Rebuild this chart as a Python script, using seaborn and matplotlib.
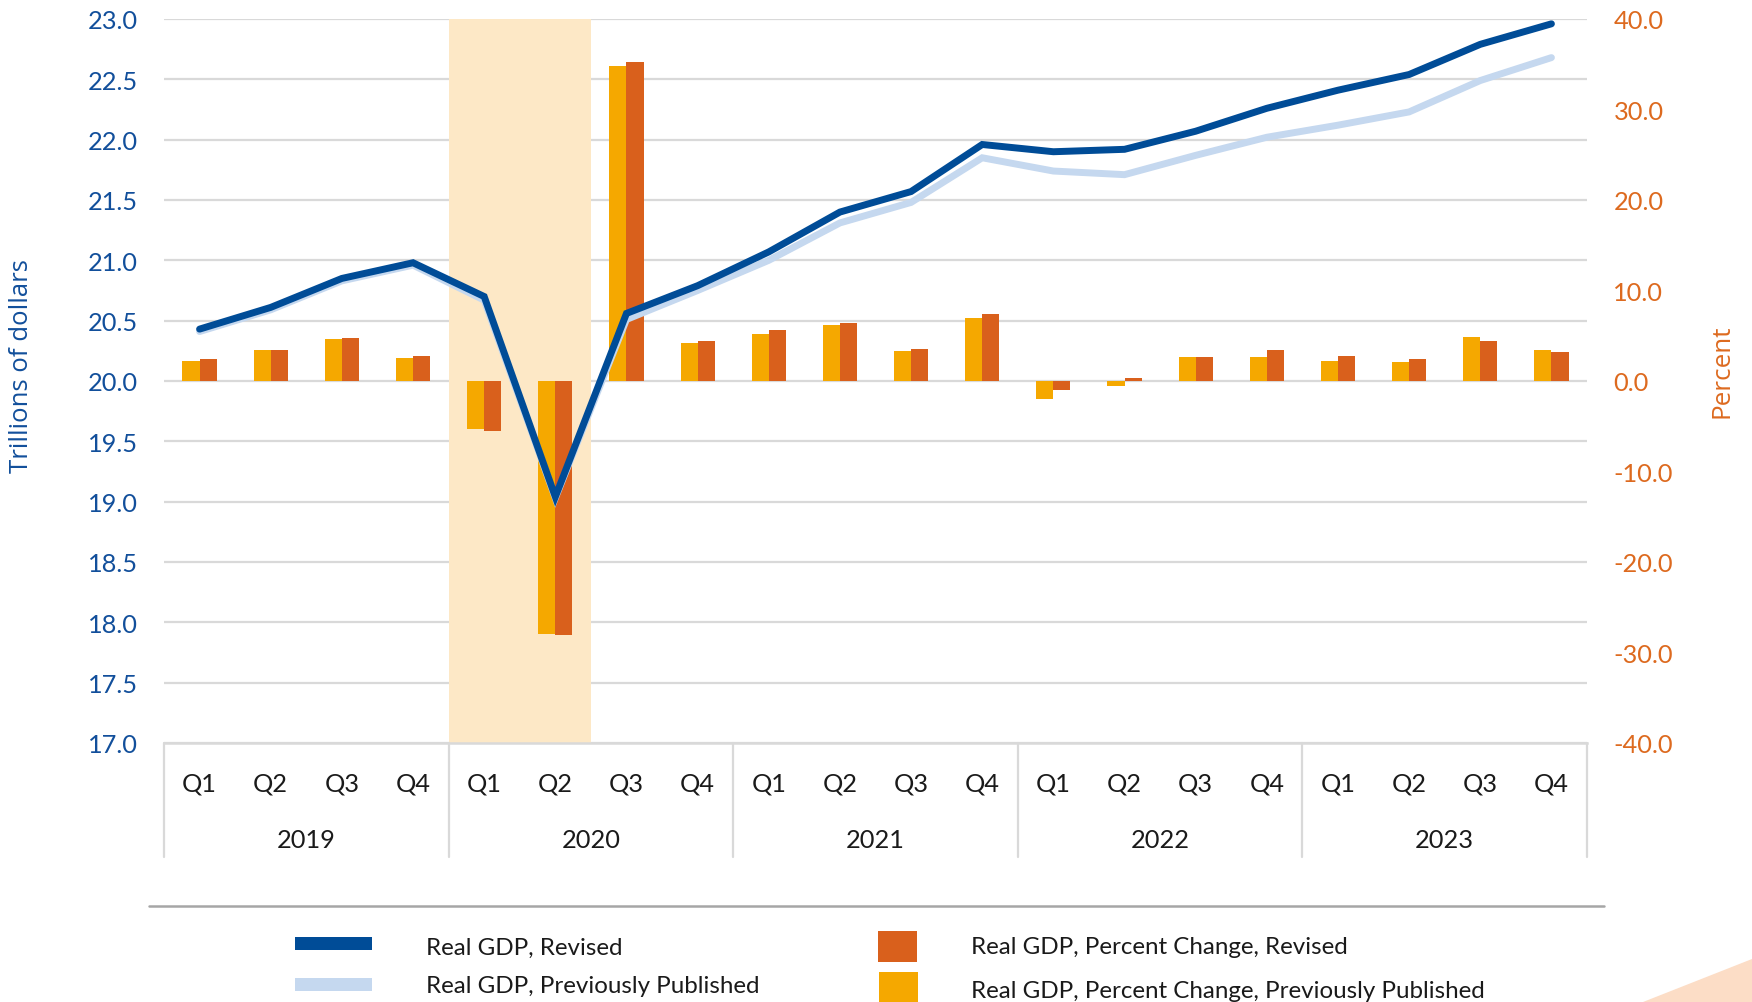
import numpy as np
import pandas as pd
import matplotlib
matplotlib.use("Agg")
import matplotlib.pyplot as plt
import matplotlib.transforms as mtrans
from matplotlib.patches import Rectangle, Polygon
from matplotlib.lines import Line2D
import seaborn as sns

# ---------------- data ----------------
years = ["2019", "2020", "2021", "2022", "2023"]
quarters = ["Q1", "Q2", "Q3", "Q4"]
recession_quarters = ["2020 Q1", "2020 Q2"]

gdp_revised = [20.43, 20.61, 20.85, 20.98,
               20.70, 19.04, 20.56, 20.79,
               21.07, 21.40, 21.57, 21.96,
               21.90, 21.92, 22.07, 22.26,
               22.41, 22.54, 22.79, 22.96]
gdp_previous = [20.41, 20.59, 20.83, 20.96,
                20.67, 19.03, 20.51, 20.75,
                21.00, 21.31, 21.48, 21.85,
                21.74, 21.71, 21.87, 22.02,
                22.12, 22.23, 22.49, 22.68]
pct_revised = [2.4, 3.4, 4.8, 2.8,
               -5.5, -28.1, 35.2, 4.4,
               5.6, 6.4, 3.5, 7.4,
               -1.0, 0.3, 2.7, 3.4,
               2.8, 2.4, 4.4, 3.2]
pct_previous = [2.2, 3.4, 4.6, 2.5,
                -5.3, -28.0, 34.8, 4.2,
                5.2, 6.2, 3.3, 7.0,
                -2.0, -0.6, 2.7, 2.6,
                2.2, 2.1, 4.9, 3.4]

lbl_rev = "Real GDP, Revised"
lbl_prev = "Real GDP, Previously Published"
lbl_pct_rev = "Real GDP, Percent Change, Revised"
lbl_pct_prev = "Real GDP, Percent Change, Previously Published"

left_ticks = np.arange(17.0, 23.01, 0.5)
right_ticks = np.arange(-40, 40.1, 10)

# ---------------- colours ----------------
C_REV = "#004C97"
C_PREV = "#C5D8EF"
C_BAR_REV = "#D9601C"
C_BAR_PREV = "#F5A800"
C_SHADE = "#FDE8C6"
C_GRID = "#D9D9D9"
C_LEFT = "#124F9B"
C_RIGHT = "#DD6A1F"
C_TEXT = "#1A1A1A"

# ---------------- frames ----------------
labels = [f"{y} {q}" for y in years for q in quarters]
idx = np.arange(len(labels))
df_lines = pd.DataFrame({
    "pos": np.concatenate([idx, idx]),
    "value": gdp_previous + gdp_revised,
    "series": [lbl_prev] * len(idx) + [lbl_rev] * len(idx),
})
df_bars = pd.DataFrame({
    "quarter": labels + labels,
    "value": pct_previous + pct_revised,
    "series": [lbl_pct_prev] * len(idx) + [lbl_pct_rev] * len(idx),
})

sns.set_theme(style="white")
plt.rcParams["font.family"] = ["Lato", "DejaVu Sans"]

W, H = 1752, 1003
fig = plt.figure(figsize=(W / 100, H / 100), dpi=100)
fig.patch.set_facecolor("white")

L, R, T, B = 164, 1587, 20, 744
rect = [L / W, 1 - B / H, (R - L) / W, (B - T) / H]

ax = fig.add_axes(rect)          # grid + shading + left ticks
ax2 = ax.twinx()                 # bars (percent)
ax3 = fig.add_axes(rect, sharex=ax, sharey=ax)  # lines on top
ax.set_zorder(1)
ax2.set_zorder(2)
ax3.set_zorder(3)
for a in (ax2, ax3):
    a.patch.set_visible(False)

# bars
sns.barplot(data=df_bars, x="quarter", y="value", hue="series",
            hue_order=[lbl_pct_prev, lbl_pct_rev],
            palette=[C_BAR_PREV, C_BAR_REV], saturation=1, width=0.48,
            linewidth=0, legend=False, ax=ax2, errorbar=None)

# lines
sns.lineplot(data=df_lines, x="pos", y="value", hue="series",
             hue_order=[lbl_prev, lbl_rev], palette=[C_PREV, C_REV],
             linewidth=5.0, legend=False, ax=ax3, solid_capstyle="round",
             solid_joinstyle="miter")
ax3.axis("off")

# shading
r0 = labels.index(recession_quarters[0]) - 0.5
r1 = labels.index(recession_quarters[-1]) + 0.5
ax.axvspan(r0, r1, color=C_SHADE, lw=0, zorder=1)

# axes limits / ticks
n = len(labels)
ax.set_xlim(-0.5, n - 0.5)
ax.set_ylim(left_ticks[0], left_ticks[-1])
ax2.set_ylim(right_ticks[0], right_ticks[-1])

TF = 18.3
ax.set_yticks(left_ticks)
ax.set_yticklabels([f"{v:.1f}" for v in left_ticks], color=C_LEFT, fontsize=TF)
ax2.set_yticks(right_ticks)
ax2.set_yticklabels([f"{v:.1f}" for v in right_ticks], color=C_RIGHT, fontsize=TF)
ax.tick_params(axis="y", length=0, pad=19)
ax2.tick_params(axis="y", length=0, pad=19)

ax.set_xticks(idx)
ax.set_xticklabels([q for y in years for q in quarters], fontsize=TF, color=C_TEXT)
ax.tick_params(axis="x", length=0, pad=29)
for t in ax.get_xticklabels():
    t.set_va("center")

ax.set_axisbelow(True)
ax.yaxis.grid(True, color=C_GRID, lw=1.6)
ax.xaxis.grid(False)
for a in (ax, ax2):
    for s in ("left", "right", "top"):
        a.spines[s].set_visible(False)
    a.set_xlabel("")
    a.set_ylabel("")
ax2.spines["bottom"].set_visible(False)
ax.spines["bottom"].set_color(C_GRID)
ax.spines["bottom"].set_linewidth(1.8)

# year labels + separators
trans = mtrans.blended_transform_factory(ax.transData, ax.transAxes)
year_y = -(841 - B) / (B - T)
sep_y = -(858 - B) / (B - T)
nq = len(quarters)
for i, y in enumerate(years):
    ax.text(i * nq + (nq - 1) / 2, year_y, y, transform=trans,
            ha="center", va="center", fontsize=TF, color=C_TEXT)
for k in range(len(years) + 1):
    ax.add_line(Line2D([k * nq - 0.5] * 2, [0, sep_y], transform=trans,
                       color=C_GRID, lw=1.6, clip_on=False))

# axis titles
fig.text(22 / W, 1 - 366 / H, "Trillions of dollars", rotation=90,
         ha="center", va="center", fontsize=18.5, color=C_LEFT,
         family=["Open Sans", "DejaVu Sans"])
fig.text(1722 / W, 1 - 371 / H, "Percent", rotation=90,
         ha="center", va="center", fontsize=18.8, color=C_RIGHT,
         family=["Open Sans", "DejaVu Sans"])

# legend (manual)
def fx(x):
    return x / W

def fy(y):
    return 1 - y / H

LF = 17.4
fig.add_artist(Line2D([fx(149), fx(1604)], [fy(907), fy(907)],
                      color="#A6A6A6", lw=1.8))
fig.add_artist(Rectangle((fx(295), fy(951)), fx(77), 13 / H,
                         facecolor=C_REV, lw=0))
fig.add_artist(Rectangle((fx(295), fy(992)), fx(77), 13 / H,
                         facecolor=C_PREV, lw=0))
fig.add_artist(Rectangle((fx(878), fy(963)), fx(39), 31 / H,
                         facecolor=C_BAR_REV, lw=0))
fig.add_artist(Rectangle((fx(879), fy(1006)), fx(39), 33 / H,
                         facecolor=C_BAR_PREV, lw=0))
fig.text(fx(426), fy(948), lbl_rev, ha="left", va="center",
         fontsize=LF, color=C_TEXT)
fig.text(fx(426), fy(987), lbl_prev, ha="left", va="center",
         fontsize=LF, color=C_TEXT)
fig.text(fx(971), fy(948), lbl_pct_rev, ha="left", va="center",
         fontsize=LF, color=C_TEXT)
fig.text(fx(971), fy(992), lbl_pct_prev, ha="left", va="center",
         fontsize=LF, color=C_TEXT)

# decorative corner triangle
fig.add_artist(Polygon([(fx(1643), fy(1003)), (fx(1752), fy(960)),
                        (fx(1752), fy(1003))], closed=True,
                       facecolor="#FCDDC6", lw=0))

fig.savefig("out.png", dpi=100, facecolor="white")
